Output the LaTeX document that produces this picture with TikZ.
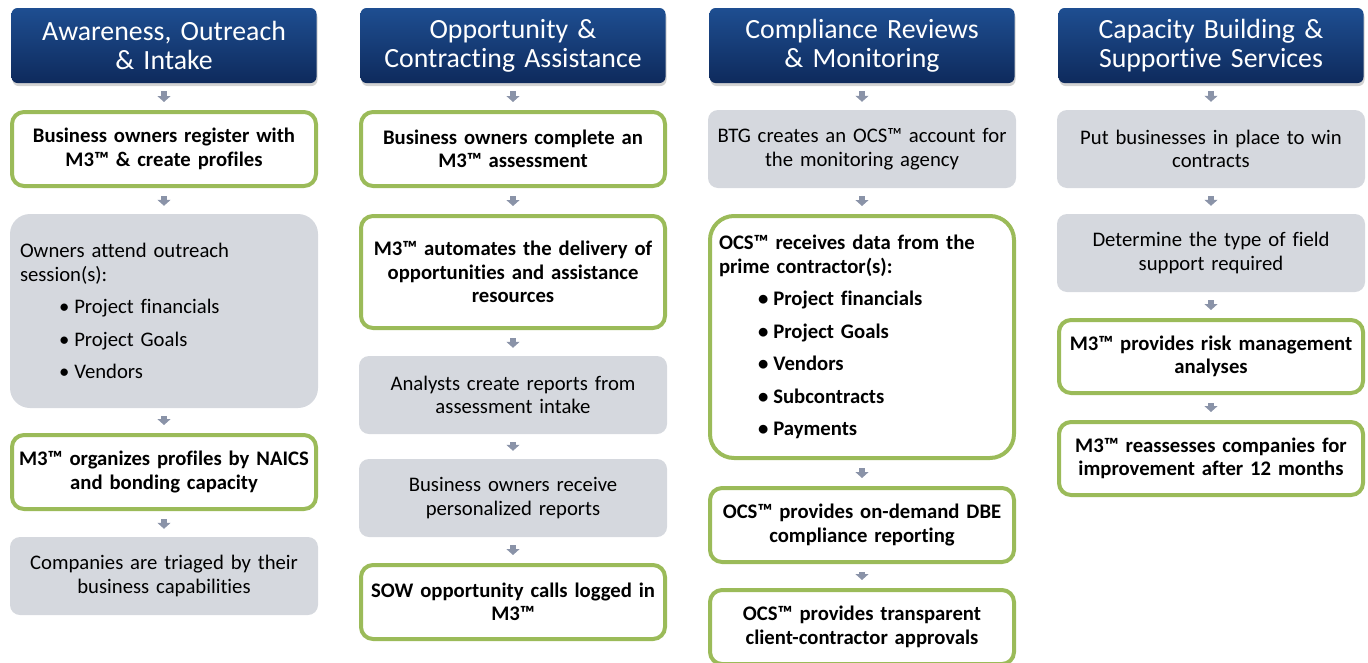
\documentclass[tikz,border=0pt]{standalone}
\usepackage{fontspec}
\setmainfont{Carlito}[Ligatures={NoCommon,NoRare}]
\usetikzlibrary{arrows.meta,shadows}

\definecolor{headTop}{RGB}{30,78,145}
\definecolor{headBottom}{RGB}{14,42,92}
\definecolor{stepGray}{RGB}{213,216,222}
\definecolor{stepGreen}{RGB}{155,187,89}
\definecolor{arrowGray}{RGB}{138,147,168}

\tikzset{
  header/.style={rounded corners=6pt, top color=headTop, bottom color=headBottom,
    text=white, inner sep=4pt, text width=297pt, minimum height=75pt, align=center,
    font=\fontsize{27.8}{29}\selectfont,
    drop shadow={shadow xshift=1pt, shadow yshift=-3pt, opacity=0.35}},
  grayBox/.style={rounded corners=10pt, fill=stepGray, inner sep=7pt,
    text width=294pt, align=center, font=\fontsize{20.7}{23.5}\selectfont},
  greenBox/.style={rounded corners=12pt, draw=stepGreen, line width=4pt, fill=white,
    inner sep=7pt, text width=290pt, align=center,
    font=\bfseries\fontsize{20.7}{23.5}\selectfont},
  flowArrow/.style={draw=arrowGray, line width=6pt,
    -{Triangle[width=13pt,length=6pt]}, shorten <=8pt, shorten >=8pt}
}

\newcommand{\bulletItem}[1]{\hspace*{39pt}\textbullet\hspace{5pt}#1}

\begin{document}
\begin{tikzpicture}[x=1pt,y=-1pt]
  \useasboundingbox (0,0) rectangle (1368,662);

  % Headers
  \node[header] (hAware) at (164,45.5) {Awareness, Outreach\\ \& Intake};
  \node[header] (hOpp) at (513,45.5) {Opportunity \&\\ Contracting Assistance};
  \node[header] (hComp) at (862,45.5) {Compliance Reviews\\ \& Monitoring};
  \node[header] (hCap) at (1211,45.5) {Capacity Building \&\\ Supportive Services};

  % Awareness column
  \node[greenBox, minimum height=74pt] (aware1) at (164,149)
    {Business owners register with\\ M3™ \& create profiles};
  \node[grayBox, minimum height=194pt, rounded corners=20pt, align=left,
    inner xsep=10pt, text width=288pt] (aware2) at (164,311)
    {Owners attend outreach\\ session(s):\\[9pt]
     \bulletItem{Project financials}\\[9pt]
     \bulletItem{Project Goals}\\[9pt]
     \bulletItem{Vendors}};
  \node[greenBox, minimum height=74pt] (aware3) at (164,472)
    {M3™ organizes profiles by NAICS\\ and bonding capacity};
  \node[grayBox, minimum height=78pt] (aware4) at (164,576)
    {Companies are triaged by their\\ business capabilities};

  % Opportunity column
  \node[greenBox, minimum height=74pt] (opp1) at (513,149)
    {Business owners complete an\\ M3™ assessment};
  \node[greenBox, minimum height=112pt] (opp2) at (513,272)
    {M3™ automates the delivery of\\ opportunities and assistance\\ resources};
  \node[grayBox, minimum height=78pt] (opp3) at (513,395)
    {Analysts create reports from\\ assessment intake};
  \node[grayBox, minimum height=78pt] (opp4) at (513,498)
    {Business owners receive\\ personalized reports};
  \node[greenBox, minimum height=74pt] (opp5) at (513,602)
    {SOW opportunity calls logged in\\ M3™};

  % Compliance column
  \node[grayBox, minimum height=78pt] (comp1) at (862,149)
    {BTG creates an OCS™ account for\\ the monitoring agency};
  \node[greenBox, minimum height=242pt, rounded corners=24pt, align=left,
    inner xsep=9pt, text width=286pt] (comp2) at (862,337)
    {OCS™ receives data from the\\ prime contractor(s):\\[9pt]
     \bulletItem{Project financials}\\[9pt]
     \bulletItem{Project Goals}\\[9pt]
     \bulletItem{Vendors}\\[9pt]
     \bulletItem{Subcontracts}\\[9pt]
     \bulletItem{Payments}};
  \node[greenBox, minimum height=74pt] (comp3) at (862,525)
    {OCS™ provides on-demand DBE\\ compliance reporting};
  \node[greenBox, minimum height=74pt] (comp4) at (862,627)
    {OCS™ provides transparent\\ client-contractor approvals};

  % Capacity column
  \node[grayBox, minimum height=78pt] (cap1) at (1211,149)
    {Put businesses in place to win\\ contracts};
  \node[grayBox, minimum height=78pt] (cap2) at (1211,253)
    {Determine the type of field\\ support required};
  \node[greenBox, minimum height=73pt] (cap3) at (1211,356.5)
    {M3™ provides risk management\\ analyses};
  \node[greenBox, minimum height=73pt] (cap4) at (1211,458.5)
    {M3™ reassesses companies for\\ improvement after 12 months};

  % Arrows
  \draw[flowArrow] (hAware) -- (aware1);
  \draw[flowArrow] (aware1) -- (aware2);
  \draw[flowArrow] (aware2) -- (aware3);
  \draw[flowArrow] (aware3) -- (aware4);
  \draw[flowArrow] (hOpp) -- (opp1);
  \draw[flowArrow] (opp1) -- (opp2);
  \draw[flowArrow] (opp2) -- (opp3);
  \draw[flowArrow] (opp3) -- (opp4);
  \draw[flowArrow] (opp4) -- (opp5);
  \draw[flowArrow] (hComp) -- (comp1);
  \draw[flowArrow] (comp1) -- (comp2);
  \draw[flowArrow] (comp2) -- (comp3);
  \draw[flowArrow] (comp3) -- (comp4);
  \draw[flowArrow] (hCap) -- (cap1);
  \draw[flowArrow] (cap1) -- (cap2);
  \draw[flowArrow] (cap2) -- (cap3);
  \draw[flowArrow] (cap3) -- (cap4);
\end{tikzpicture}
\end{document}
